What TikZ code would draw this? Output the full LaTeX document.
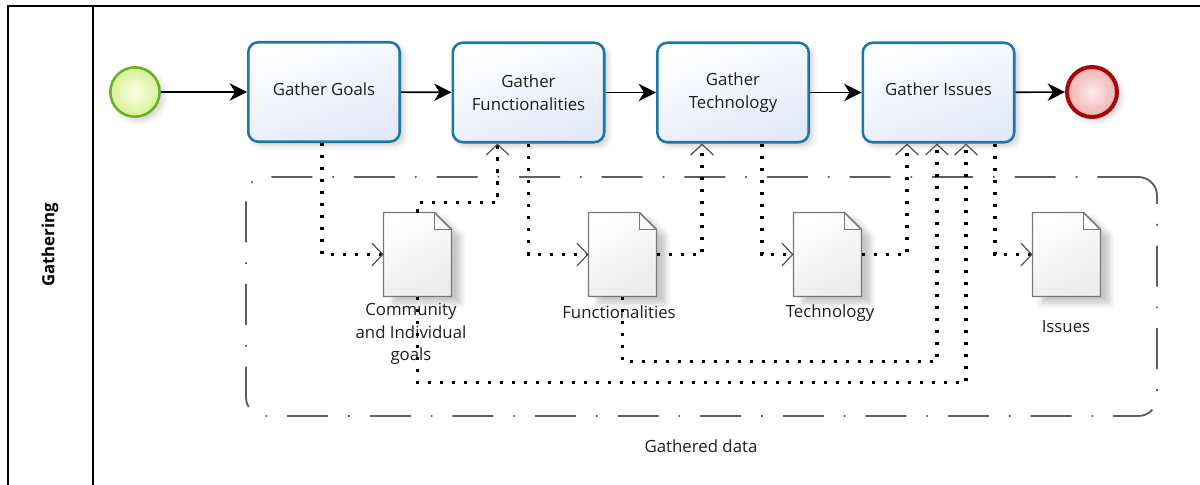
\documentclass[tikz,border=0pt]{standalone}
\usepackage{fontspec}
\setmainfont{Open Sans}
\usetikzlibrary{arrows.meta,calc,shadows,shadows.blur}

\definecolor{taskblue}{RGB}{28,118,166}
\definecolor{taskfill}{RGB}{226,233,250}
\definecolor{startgreen}{RGB}{104,176,36}
\definecolor{startfill}{RGB}{214,240,150}
\definecolor{endred}{RGB}{166,8,8}
\definecolor{endfill}{RGB}{238,178,178}
\definecolor{docgray}{RGB}{120,120,120}
\definecolor{docfill}{RGB}{236,236,236}
\definecolor{groupgray}{RGB}{95,95,95}
\definecolor{textc}{RGB}{30,30,30}
\definecolor{barbgray}{RGB}{80,80,80}

\newcommand{\diafont}{\fontsize{12.6}{17}\selectfont}

\tikzset{
  softshadow/.style={blur shadow={shadow xshift=3pt, shadow yshift=-3pt,
      shadow blur steps=6, shadow blur radius=4pt, shadow opacity=18}},
  task/.style={draw=taskblue, line width=1.9pt, rounded corners=7.5pt,
      minimum width=113.6pt, minimum height=74.6pt, align=center,
      top color=white, bottom color=taskfill, shading angle=20,
      text=textc, font=\diafont, softshadow},
  oneline/.style={text depth=4.5pt},
  startev/.style={circle, draw=startgreen, line width=1.9pt, minimum size=37pt,
      inner sep=0pt, shading=radial, inner color=white!90!yellow,
      outer color=startfill, softshadow},
  endev/.style={circle, draw=endred, line width=3pt, minimum size=37.5pt,
      inner sep=0pt, shading=radial, inner color=white!92!red,
      outer color=endfill, softshadow},
  docbox/.style={minimum width=50.6pt, minimum height=62.6pt, inner sep=0pt},
  docline/.style={draw=docgray, line width=1.1pt, top color=white,
      bottom color=docfill, shading angle=30,
      blur shadow={shadow xshift=7pt, shadow yshift=-5pt,
      shadow blur steps=6, shadow blur radius=4pt, shadow opacity=22}},
  doclabel/.style={align=center, text=textc, font=\diafont},
  seqflow/.style={line width=1.2pt, black,
      -{Stealth[length=13pt, width=13pt, inset=4pt]}},
  assoc/.style={line width=2.3pt, black, dash pattern=on 2.3pt off 6.7pt,
      -{Straight Barb[length=8pt, width=17pt, line width=0.9pt, color=barbgray]}},
  groupbox/.style={draw=groupgray, line width=1.4pt, rounded corners=14pt,
      dash pattern=on 30.75pt off 15pt on 1.2pt off 15pt,
      minimum width=683.25pt, minimum height=179.25pt},
  laneline/.style={line width=0.9pt, black},
}

% data object with a folded corner, drawn on a named node
\newcommand{\dataobject}[1]{%
  \path[docline] (#1.north west) -- ($(#1.north east)+(-17,0)$)
     -- ($(#1.north east)+(0,17)$) -- (#1.south east) -- (#1.south west) -- cycle;
  \draw[docgray, line width=1.1pt] ($(#1.north east)+(-17,0)$)
     -- ($(#1.north east)+(-17,17)$) -- ($(#1.north east)+(0,17)$);
}

\begin{document}
\begin{tikzpicture}[x=0.75pt, y=-0.75pt]
\useasboundingbox (0,0) rectangle (1200,485);

% pool and lane frame
\draw[laneline] (8,485) -- (8,6) -- (1200,6);
\draw[laneline] (93,6) -- (93,485);
\node[rotate=90, font=\diafont\bfseries, text=black] (lane) at (50,245) {Gathering};

% group of data objects
\node[groupbox] (grp) at (701.5,296.5) {};
\node[doclabel] (grplabel) at (701,446) {Gathered data};

% events and tasks
\node[startev] (start) at (135,92) {};
\node[task, oneline] (t1) at (324,92) {Gather Goals};
\node[task] (t2) at (528.5,92.5) {Gather\\Functionalities};
\node[task] (t3) at (733,92.5) {Gather\\Technology};
\node[task, oneline] (t4) at (938.5,92.5) {Gather Issues};
\node[endev] (end) at (1092,92) {};

% data objects
\node[docbox] (d1) at (417.5,254.5) {};
\node[docbox] (d2) at (622.5,254.5) {};
\node[docbox] (d3) at (827.5,254.5) {};
\node[docbox] (d4) at (1066.5,254.5) {};
\dataobject{d1}
\dataobject{d2}
\dataobject{d3}
\dataobject{d4}

\node[doclabel] (l1) at (411,334) {Community\\and Individual\\goals};
\node[doclabel] (l2) at (619,312) {Functionalities};
\node[doclabel] (l3) at (830,313) {Technology};
\node[doclabel] (l4) at (1066,327) {Issues};

% sequence flows
\draw[seqflow] (start) -- (t1);
\draw[seqflow] (t1) -- (t2);
\draw[seqflow] (t2) -- (t3);
\draw[seqflow] (t3) -- (t4);
\draw[seqflow] (t4) -- (end);

% association ports on the task borders
\coordinate (t1out) at ($(t1.south)+(-2,0)$);
\coordinate (t2in)  at ($(t2.south)+(-31,0)$);
\coordinate (t2out) at (t2.south);
\coordinate (t3in)  at ($(t3.south)+(-31,0)$);
\coordinate (t3out) at ($(t3.south)+(29,0)$);
\coordinate (t4inA) at ($(t4.south)+(-31.5,0)$);
\coordinate (t4inB) at ($(t4.south)+(-1.5,0)$);
\coordinate (t4inC) at ($(t4.south)+(27.5,0)$);
\coordinate (t4out) at ($(t4.south)+(56.5,0)$);

% task outputs into data objects
\draw[assoc] (t1out) |- (d1.west);
\draw[assoc] (t2out) |- (d2.west);
\draw[assoc] (t3out) |- (d3.west);
\draw[assoc] (t4out) |- (d4.west);

% data objects read by later tasks
\draw[assoc] (d1.north) -- ++(0,-10) -| (t2in);
\draw[assoc] (d2.east) -| (t3in);
\draw[assoc] (d3.east) -| (t4inA);
\draw[assoc] (d2.south) -- ++(0,65) -| (t4inB);
\draw[assoc] (d1.south) -- ++(0,86) -| (t4inC);
\end{tikzpicture}
\end{document}
